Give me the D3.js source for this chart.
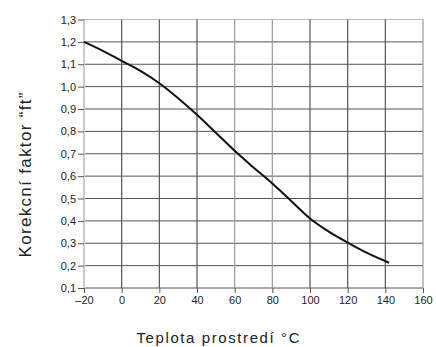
<!DOCTYPE html>
<html><head><meta charset="utf-8">
<script src="https://cdn.jsdelivr.net/npm/d3@7"></script>
<style>
html,body{margin:0;padding:0;background:#fff;}
svg{display:block;}
text{font-family:"Liberation Sans",Arial,sans-serif;fill:#222;}
</style></head><body>
<svg id="c" width="436" height="347"></svg>
<script>
const temps = [-20, -10, 0, 10, 20, 30, 40, 50, 60, 70, 80, 90, 100, 110, 120, 130, 142];
const factors = [1.20, 1.16, 1.115, 1.07, 1.015, 0.948, 0.874, 0.794, 0.713, 0.639, 0.567, 0.489, 0.411, 0.352, 0.303, 0.258, 0.213];
const xTicks = [-20, 0, 20, 40, 60, 80, 100, 120, 140, 160];
const yTicks = [0.1, 0.2, 0.3, 0.4, 0.5, 0.6, 0.7, 0.8, 0.9, 1.0, 1.1, 1.2, 1.3];
const xTitle = "Teplota prostredí  °C";
const yTitle = "Korekcní  faktor  \u201Cft\u201D";

const svg = d3.select("#c");
const x = d3.scaleLinear().domain([-20, 160]).range([84, 423]);
const y = d3.scaleLinear().domain([0.1, 1.3]).range([288, 19.5]);

const fmt = v => d3.format(".1f")(v).replace(".", ",");

// grid
const g = svg.append("g");
g.selectAll("line.h").data(yTicks).join("line")
  .attr("x1", x(-20)).attr("x2", x(160))
  .attr("y1", d => y(d)).attr("y2", d => y(d))
  .attr("stroke", (d,i) => i === yTicks.length-1 ? "#bbb" : "#555")
  .attr("stroke-width", 1);
g.selectAll("line.v").data(xTicks).join("line")
  .attr("y1", y(0.1)).attr("y2", y(1.3))
  .attr("x1", d => x(d)).attr("x2", d => x(d))
  .attr("stroke", d => (d === -20) ? "#ccc" : (d === 60 || d === 80 || d === 160) ? "#999" : "#555")
  .attr("stroke-width", d => d === -20 ? 2 : 1.2);

// axes
const yAxis = d3.axisLeft(y).tickValues(yTicks).tickFormat(fmt).tickSize(6).tickPadding(2);
const ya = svg.append("g").attr("transform", `translate(${x(-20)},0)`).call(yAxis);
ya.select(".domain").remove();
ya.selectAll(".tick line").attr("stroke", "#555");
ya.selectAll(".tick text").style("font-size", "11px").attr("fill", "#222").attr("font-family", "Liberation Sans, Arial, sans-serif").attr("dy", "0.32em");

const xAxis = d3.axisBottom(x).tickValues(xTicks).tickFormat(d => d < 0 ? "\u2013" + Math.abs(d) : d).tickSize(5).tickPadding(3);
const xa = svg.append("g").attr("transform", `translate(0,${y(0.1)})`).call(xAxis);
xa.select(".domain").remove();
xa.selectAll(".tick line").attr("stroke", "#555");
xa.selectAll(".tick text").style("font-size", "11px").attr("fill", "#222").attr("font-family", "Liberation Sans, Arial, sans-serif");

// curve
svg.append("path")
  .datum(temps.map((t,i) => [t, factors[i]]))
  .attr("fill", "none").attr("stroke", "#111").attr("stroke-width", 2)
  .attr("d", d3.line().x(d => x(d[0])).y(d => y(d[1])).curve(d3.curveMonotoneX));

// titles
svg.append("text").attr("x", 218).attr("y", 343).attr("text-anchor", "middle")
  .style("font-size", "15px").attr("textLength", 163).attr("lengthAdjust", "spacing")
  .text(xTitle);
svg.append("text").attr("transform", "translate(31,175) rotate(-90)").attr("text-anchor", "middle")
  .style("font-size", "17px").attr("textLength", 165).attr("lengthAdjust", "spacing")
  .text(yTitle);
</script>
</body></html>
